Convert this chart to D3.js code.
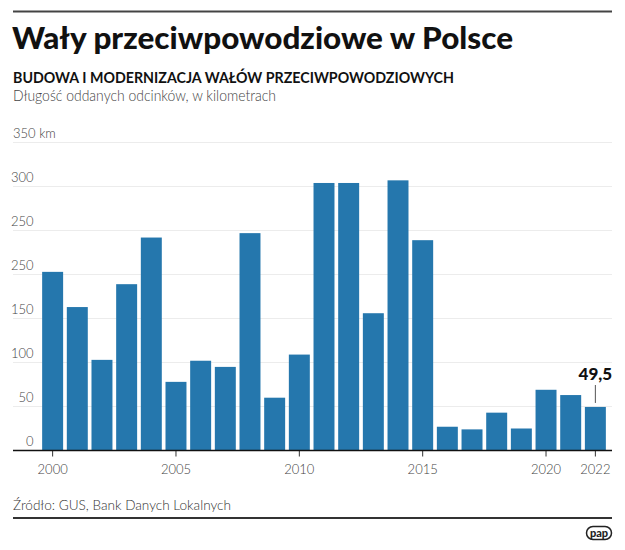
<!DOCTYPE html>
<html><head><meta charset="utf-8">
<script src="https://cdn.jsdelivr.net/npm/d3@7"></script>
<style>
html,body{margin:0;padding:0;background:#fff;}
svg{display:block;font-family:Lato,"Open Sans",sans-serif;}
</style></head>
<body>
<svg id="c" width="625" height="550"></svg>
<script>
const years = [2000,2001,2002,2003,2004,2005,2006,2007,2008,2009,2010,2011,2012,2013,2014,2015,2016,2017,2018,2019,2020,2021,2022];
const values = [203,163,103,189,242,78,102,95,247,60,109,304,304,156,307,239,27,24,43,25,69,63,49.5];
const yTicks = [0,50,100,150,200,250,300,350];
const yTickLabels = ["0","50","100","150","250","250","300","350 km"];
const xTicks = [2000,2005,2010,2015,2020,2022];
const highlightLabel = "49,5";

const svg = d3.select("#c");
const W = 625;
const left = 13, right = 612;

const x = d3.scaleBand().domain(years).range([40.3, 607.7]).paddingInner(0.15).paddingOuter(0.075);
const y = d3.scaleLinear().domain([0,350]).range([450.5, 142.5]);

// top rule
svg.append("line").attr("x1",left).attr("x2",right).attr("y1",11.5).attr("y2",11.5)
  .attr("stroke","#444").attr("stroke-width",2);

svg.append("text").attr("x",12).attr("y",49)
  .attr("font-size",30).attr("font-weight",900).attr("fill","#111")
  .attr("textLength",501).attr("lengthAdjust","spacingAndGlyphs")
  .text("Wały przeciwpowodziowe w Polsce");

svg.append("text").attr("x",13).attr("y",82.5)
  .attr("font-size",15).attr("font-weight",700).attr("fill","#111")
  .attr("textLength",441).attr("lengthAdjust","spacingAndGlyphs")
  .text("BUDOWA I MODERNIZACJA WAŁÓW PRZECIWPOWODZIOWYCH");

svg.append("text").attr("x",13).attr("y",101)
  .attr("font-size",15).attr("font-weight",300).attr("fill","#444")
  .attr("textLength",263).attr("lengthAdjust","spacingAndGlyphs")
  .text("Długość oddanych odcinków, w kilometrach");

// gridlines
svg.append("g").selectAll("line").data(yTicks.filter(d=>d>0)).join("line")
  .attr("x1",left).attr("x2",right)
  .attr("y1",d=>y(d)).attr("y2",d=>y(d))
  .attr("stroke","#ececec").attr("stroke-width",1);

// y labels
svg.append("g").selectAll("text").data(yTicks).join("text")
  .attr("x",(d,i)=> i===yTicks.length-1 ? 13 : 33.5)
  .attr("y",d=>y(d)-4.5)
  .attr("text-anchor",(d,i)=> i===yTicks.length-1 ? "start" : "end")
  .attr("font-size",13).attr("font-weight",300).attr("fill","#444")
  .text((d,i)=>yTickLabels[i]);

// bars
svg.append("g").selectAll("rect").data(years).join("rect")
  .attr("x",d=>x(d)).attr("width",x.bandwidth())
  .attr("y",(d,i)=>y(values[i])).attr("height",(d,i)=>y(0)-y(values[i]))
  .attr("fill","#2577ad");

// x axis
const xAxis = d3.axisBottom(x).tickValues(xTicks).tickSize(6).tickSizeOuter(0).tickPadding(8);
const gx = svg.append("g").attr("transform",`translate(0,${y(0)})`).call(xAxis);
gx.select(".domain").remove();
gx.selectAll(".tick line").attr("stroke","#333").attr("stroke-width",1);
gx.selectAll(".tick text").attr("font-family","Lato,sans-serif").attr("font-size",13)
  .attr("font-weight",300).attr("fill","#444");
svg.append("line").attr("x1",left).attr("x2",right).attr("y1",y(0)).attr("y2",y(0))
  .attr("stroke","#111").attr("stroke-width",1.5);

// highlight annotation
const last = years[years.length-1];
const cx = x(last) + x.bandwidth()/2;
svg.append("line").attr("x1",cx).attr("x2",cx)
  .attr("y1",y(values[values.length-1])-4).attr("y2",385)
  .attr("stroke","#555").attr("stroke-width",1);
svg.append("text").attr("x",cx).attr("y",379.5).attr("text-anchor","middle")
  .attr("font-size",17).attr("font-weight",900).attr("fill","#111")
  .text(highlightLabel);

// source
svg.append("text").attr("x",13).attr("y",510)
  .attr("font-size",14.5).attr("font-weight",300).attr("fill","#333")
  .attr("textLength",218).attr("lengthAdjust","spacingAndGlyphs")
  .text("Źródło: GUS, Bank Danych Lokalnych");

svg.append("line").attr("x1",left).attr("x2",right).attr("y1",518).attr("y2",518)
  .attr("stroke","#333").attr("stroke-width",2);

// pap logo
const lg = svg.append("g").attr("transform","translate(599,533)");
lg.append("rect").attr("x",-12.5).attr("y",-6.5).attr("width",25).attr("height",13).attr("rx",6.5)
  .attr("fill","#fff").attr("stroke","#222").attr("stroke-width",1.5);
lg.append("text").attr("x",0).attr("y",3.5).attr("text-anchor","middle")
  .attr("font-size",11).attr("font-weight",900).attr("fill","#222").text("pap");
</script>
</body></html>
